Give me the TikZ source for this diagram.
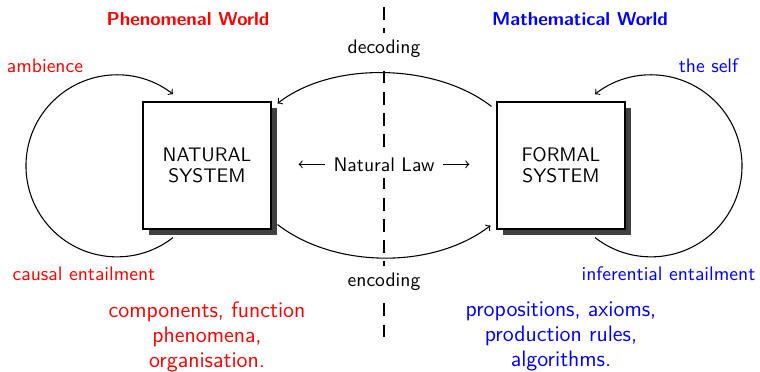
\documentclass[tikz,border=0pt]{standalone}
\usetikzlibrary{calc,shadows}
\definecolor{myred}{RGB}{255,0,0}
\definecolor{myblue}{RGB}{0,0,255}
\begin{document}
\begin{tikzpicture}[x=0.51pt,y=-0.51pt,line width=0.55pt,
  every node/.style={font=\sffamily\fontsize{10}{12}\selectfont},
  sysbox/.style={draw=black, fill=white, line width=0.55pt, minimum width=65.3pt, minimum height=64.8pt, inner sep=0pt, align=center,
    font=\sffamily\fontsize{10}{10.8}\selectfont,
    drop shadow={shadow xshift=3pt, shadow yshift=-3pt, opacity=1, fill=black!75}},
  title/.style={font=\sffamily\bfseries\fontsize{9.55}{12}\selectfont, anchor=base},
  lbl/.style={anchor=base},
  cut/.style={anchor=base, fill=white},
  big/.style={align=center, anchor=north, inner sep=0pt, font=\sffamily\fontsize{11.4}{12.75}\selectfont},
  divider/.style={dash pattern=on 6.6pt off 4.2pt},
  arr/.style={->}
]
\useasboundingbox (0,0) rectangle (760,372);

% divider
\coordinate (dtop) at (384,7);
\coordinate (dbot) at (384,337);
\draw[divider] (dtop) -- (dbot);

% systems
\node[sysbox] (nat) at (207,165.5) {NATURAL\\SYSTEM};
\node[sysbox] (form) at (561,165.5) {FORMAL\\SYSTEM};

% titles
\node[title, text=myred] (phen) at (188,25) {Phenomenal World};
\node[title, text=myblue] (math) at (580,25) {Mathematical World};

% decoding / encoding
\coordinate (dec0) at ($(form.north west)+(-5,5)$);
\coordinate (dec1) at ($(nat.north east)+(6,2)$);
\draw[arr] (dec0) .. controls ($(dec0)+(-55,-43)$) and ($(dec1)+(55,-43)$) .. (dec1);
\coordinate (enc0) at ($(nat.south east)+(6,-5)$);
\coordinate (enc1) at ($(form.south west)+(-6,-4)$);
\draw[arr] (enc0) .. controls ($(enc0)+(57,44)$) and ($(enc1)+(-57,44)$) .. (enc1);

\node[cut] (dec) at (384,53.5) {decoding};
\node[cut] (enc) at (384,286) {encoding};

% natural law
\node[cut] (law) at (384,171) {Natural Law};
\coordinate (lawl) at ($(law.west)+(-28,0)$);
\coordinate (lawr) at ($(law.east)+(28,0)$);
\draw[arr] ($(law.west)+(-2,0)$) -- (lawl);
\draw[arr] ($(law.east)+(2,0)$) -- (lawr);

% loops
\coordinate (la) at ($(nat.south)+(-34,8)$);
\draw[arr] (la) arc[start angle=52, end angle=308, radius=91];
\coordinate (ra) at ($(form.south)+(34,8)$);
\draw[arr] (ra) arc[start angle=128, end angle=-128, radius=91];

% labels
\node[lbl, text=myred] (amb) at (45,72.7) {ambience};
\node[lbl, text=myblue] (self) at (708.5,72.7) {the self};
\node[lbl, text=myred] (caus) at (84,280) {causal entailment};
\node[lbl, text=myblue] (infer) at (668.5,280) {inferential entailment};

% bottom texts
\node[big, text=myred] (comp) at (207,301.5) {components, function\\phenomena,\\organisation.};
\node[big, text=myblue] (prop) at (561,301.5) {propositions, axioms,\\production rules,\\algorithms.};
\end{tikzpicture}
\end{document}
